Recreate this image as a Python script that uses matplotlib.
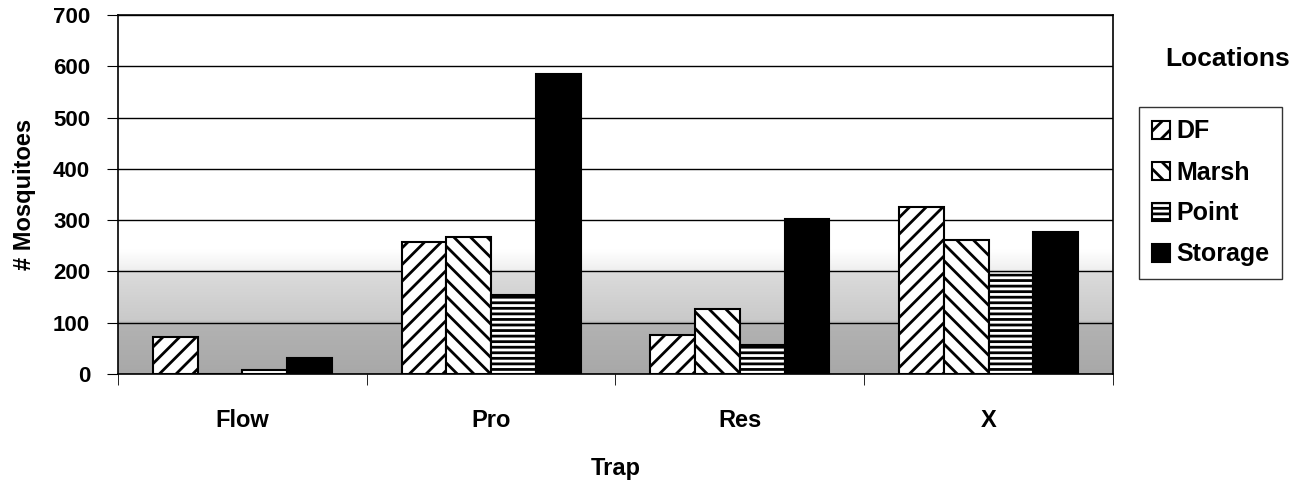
import numpy as np
import matplotlib.pyplot as plt
from matplotlib.colors import LinearSegmentedColormap

plt.rcParams['font.family'] = ['Liberation Sans', 'DejaVu Sans']
plt.rcParams['font.weight'] = 'bold'
plt.rcParams['hatch.linewidth'] = 2.0

traps = ["Flow", "Pro", "Res", "X"]
locations = ["DF", "Marsh", "Point", "Storage"]
df = [72, 257, 76, 325]
marsh = [0, 268, 126, 261]
point = [8, 154, 56, 193]
storage = [32, 585, 303, 277]
series = [df, marsh, point, storage]
hatches = ["//", "\\\\", "---", None]
fills = ["white", "white", "white", "black"]

fig = plt.figure(figsize=(13.12, 4.91), dpi=100)
ax = fig.add_axes([0.0899, 0.2383, 0.7584, 0.7312])

# grey shading at the bottom of the plot area (scan look)
grad_y = np.array([0, 97, 103, 197, 203, 240, 700]) / 700
grad_c = np.array([0.66, 0.70, 0.79, 0.86, 0.94, 1.0, 1.0])
cmap = LinearSegmentedColormap.from_list(
    "bg", [(p, (c, c, c)) for p, c in zip(grad_y, grad_c)])
ax.imshow(np.linspace(0, 1, 700).reshape(-1, 1), cmap=cmap, aspect="auto",
          origin="lower", extent=(-0.5, 3.5, 0, 700), zorder=0,
          vmin=0, vmax=1)

x = np.arange(len(traps))
w = 0.18
for i, (vals, h, fc, name) in enumerate(zip(series, hatches, fills, locations)):
    ax.bar(x + (i - 1.5) * w, vals, w, color=fc, edgecolor="black",
           hatch=h, linewidth=1.5, label=name, zorder=3)

ax.set_xlim(-0.5, 3.5)
ax.set_ylim(0, 700)
ax.set_yticks(range(0, 701, 100))
ax.yaxis.grid(True, color="black", linewidth=1)
for gl in ax.get_ygridlines():
    gl.set_zorder(1)

ax.set_xticks(x)
ax.set_xticklabels(traps, fontsize=17, fontweight="bold")
ax.set_xticks(np.arange(-0.5, 3.6, 1), minor=True)
ax.tick_params(axis="x", which="major", length=0, pad=25)
ax.tick_params(axis="x", which="minor", length=8, direction="out")
ax.tick_params(axis="y", length=8, direction="out", labelsize=16, pad=12)
for lbl in ax.get_yticklabels():
    lbl.set_fontweight("bold")

for s in ax.spines.values():
    s.set_linewidth(1.2)

ax.set_xlabel("Trap", fontsize=17, fontweight="bold", labelpad=18)
ax.set_ylabel("# Mosquitoes", fontsize=17, fontweight="bold", labelpad=12)

leg = fig.legend(loc="upper left", bbox_to_anchor=(1139 / 1312, 1 - 107 / 491),
                 frameon=True, fancybox=False, edgecolor="black",
                 fontsize=18, handlelength=0.75, handleheight=0.75,
                 handletextpad=0.25, labelspacing=0.68, borderpad=0.5,
                 borderaxespad=0)
leg.get_frame().set_linewidth(1.0)
for t in leg.get_texts():
    t.set_fontweight("bold")

fig.text(1228 / 1312, 1 - 59 / 491, "Locations", fontsize=19,
         fontweight="bold", ha="center", va="center")

fig.savefig("out.png", dpi=100)
